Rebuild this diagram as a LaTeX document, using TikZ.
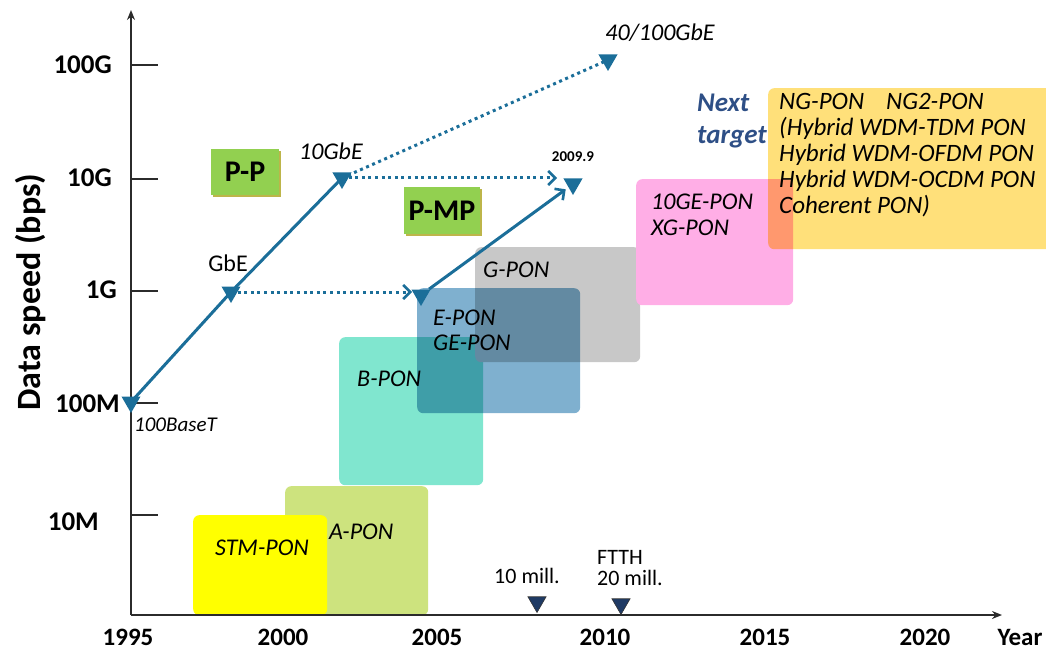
\documentclass[tikz,border=0pt]{standalone}
\usepackage{fontspec}
\setmainfont{Carlito}
\usetikzlibrary{arrows.meta,shapes.geometric,shadows}

\definecolor{lineblue}{HTML}{1B6E99}
\definecolor{navytri}{HTML}{1F3A64}
\definecolor{axisgray}{HTML}{2B2B2B}
\definecolor{stmyellow}{HTML}{FFFF00}
\definecolor{aponolive}{HTML}{CDE37E}
\definecolor{bponteal}{HTML}{80E6CF}
\definecolor{eponblue}{HTML}{7FB0CF}
\definecolor{gpongray}{HTML}{C8C8C8}
\definecolor{xgpink}{HTML}{FFAEE6}
\definecolor{nggold}{HTML}{FFE07A}
\definecolor{ppgreen}{HTML}{92D050}
\definecolor{ppshadow}{HTML}{BDB54A}
\definecolor{nextblue}{HTML}{2E4F86}

\newcommand\setfs[2]{\fontsize{#1}{#2}\selectfont}

\tikzset{
  ponbox/.style={rectangle, rounded corners=6pt, inner sep=0pt, anchor=north west},
  ponlabel/.style={inner sep=0pt, font=\setfs{24}{26}\itshape, align=left},
  ppbox/.style={rectangle, fill=ppgreen, inner sep=0pt, font=\setfs{30}{30}\bfseries,
    drop shadow={shadow xshift=1.6pt, shadow yshift=-1.6pt, fill=ppshadow, opacity=1}},
  mk/.style={regular polygon, regular polygon sides=3, shape border rotate=180,
    fill=lineblue, minimum size=22pt, inner sep=0pt},
  mkdark/.style={regular polygon, regular polygon sides=3, shape border rotate=180,
    fill=navytri, draw=black!80, line width=0.6pt, minimum size=21pt, inner sep=0pt},
  solidline/.style={draw=lineblue, line width=3pt},
  dotline/.style={draw=lineblue, line width=3pt, dash pattern=on 3pt off 3.6pt},
  barb/.tip={Straight Barb[length=7pt, width=14pt, line width=2.6pt]},
  axis/.style={draw=axisgray, line width=2pt},
  ticklabel/.style={inner sep=0pt, anchor=east, font=\setfs{27}{27}\bfseries},
  yearlabel/.style={inner sep=0pt, font=\setfs{25}{25}\bfseries},
  annot/.style={inner sep=0pt, font=\setfs{24}{24}\itshape},
}

\begin{document}
\begin{tikzpicture}[x=1pt, y=-1pt]
\useasboundingbox (0,0) rectangle (1046,652);

% --- technology boxes -------------------------------------------------
\node[ponbox, fill=aponolive, minimum width=143pt, minimum height=129pt] (apon) at (285,486) {};
\node[ponbox, fill=stmyellow, minimum width=134pt, minimum height=100pt] (stm) at (193,515) {};
\node[ponbox, fill=bponteal, minimum width=144pt, minimum height=148pt] (bpon) at (339,337) {};
\node[ponbox, fill=gpongray, minimum width=165pt, minimum height=115pt] (gpon) at (475,247) {};
\begin{scope}[blend mode=multiply]
  \node[ponbox, fill=eponblue, minimum width=163pt, minimum height=125pt] (epon) at (417,288) {};
\end{scope}
\node[ponbox, fill=xgpink, minimum width=157pt, minimum height=126pt] (xgpon) at (636,179) {};
\begin{scope}[blend mode=multiply]
  \node[ponbox, fill=nggold, minimum width=290pt, minimum height=161pt] (ngpon) at (768,88) {};
\end{scope}

% --- box texts --------------------------------------------------------
\node[ponlabel] (tstm) at (262,548) {STM-PON};
\node[ponlabel, anchor=west] (tapon) at (329,532) {A-PON};
\node[ponlabel, anchor=west] (tbpon) at (357,379) {B-PON};
\node[ponlabel, anchor=west, font=\setfs{24}{25}\itshape] (tepon) at (433,330) {E-PON\\GE-PON};
\node[ponlabel, anchor=west] (tgpon) at (483,270) {G-PON};
\node[ponlabel, anchor=west] (txg) at (651,215) {10GE-PON\\XG-PON};
\node[ponlabel, anchor=west, font=\setfs{25}{26}\itshape] (tng) at (779,155)
  {NG-PON\hspace{22pt}NG2-PON\\(Hybrid WDM-TDM PON\\Hybrid WDM-OFDM PON\\Hybrid WDM-OCDM PON\\Coherent PON)};
\node[inner sep=0pt, anchor=west, align=left, text=nextblue, font=\setfs{27}{32}\bfseries\itshape] (tnext) at (697,121) {Next\\target};

% --- P-P / P-MP tags --------------------------------------------------
\node[ppbox, minimum width=68pt, minimum height=46pt] (pp) at (245,172) {P-P};
\node[ppbox, minimum width=76pt, minimum height=47pt] (pmp) at (442,211) {P-MP};

% --- axes -------------------------------------------------------------
\coordinate (org) at (131,615);
\coordinate (ytop) at (131,10);
\coordinate (xend) at (1002,615);
\draw[axis, -{Stealth[length=10pt, width=8pt]}] (org) -- (ytop);
\draw[axis, -{Stealth[length=10pt, width=8pt]}] (org) -- (xend);

\foreach \yy/\lab/\lx/\ly in {65/100G/112/65, 179/10G/112/178, 291/1G/117/290, 403/100M/120/404, 515/10M/99/522}{
  \draw[axis] (131,\yy) -- (158,\yy);
  \node[ticklabel] at (\lx,\ly) {\lab};
}
\node[rotate=90, inner sep=0pt, font=\setfs{34}{34}\bfseries] (ylab) at (31,292) {Data speed (bps)};

\foreach \xx/\lab in {128/1995, 283/2000, 437/2005, 605/2010, 765/2015, 925/2020}{
  \node[yearlabel] at (\xx,637) {\lab};
}
\node[yearlabel] (yearlab) at (1020,637) {Year};

% --- Ethernet / PON milestones ---------------------------------------
\coordinate (p100) at (131,402);
\coordinate (pgbe) at (231,292);
\coordinate (p10g) at (342,178);
\coordinate (p40) at (608,60);
\coordinate (pep) at (421,295);
\coordinate (p2009) at (573,184);

\draw[dotline] (p10g) -- (p40);
\draw[dotline, -{barb}] (p10g) -- ([xshift=-16pt]p10g -| p2009);
\draw[dotline, -{barb}] (pgbe) -- ([xshift=-9pt]pgbe -| pep);
\draw[solidline] (p100) -- (pgbe) -- (p10g);
\draw[solidline, -{barb}, shorten <=10pt, shorten >=9pt] (pep) -- (p2009);

\node[mk] (m100) at (p100) {};
\node[mk] (mgbe) at (pgbe) {};
\node[mk] (m10g) at (p10g) {};
\node[mk] (m40) at (p40) {};
\node[mk] (mep) at (pep) {};
\node[mk] (m2009) at (p2009) {};

\node[annot, anchor=west, font=\setfs{21}{21}\itshape] (l100) at (134,425) {100BaseT};
\node[inner sep=0pt, font=\setfs{24}{24}] (lgbe) at (228,263) {GbE};
\node[annot] (l10g) at (331,151) {10GbE};
\node[annot] (l40) at (660,33) {40/100GbE};
\node[inner sep=0pt, font=\setfs{15}{15}\bfseries] (l2009) at (573,157) {2009.9};

% --- FTTH subscriber marks -------------------------------------------
\node[mkdark] (f10) at (537,602) {};
\node[mkdark] (f20) at (621,604) {};
\node[inner sep=0pt, font=\setfs{22}{22}] (lf10) at (527,576) {10 mill.};
\node[inner sep=0pt, anchor=west, align=left, font=\setfs{22}{21}] (lf20) at (597,568) {FTTH\\20 mill.};

\end{tikzpicture}
\end{document}
